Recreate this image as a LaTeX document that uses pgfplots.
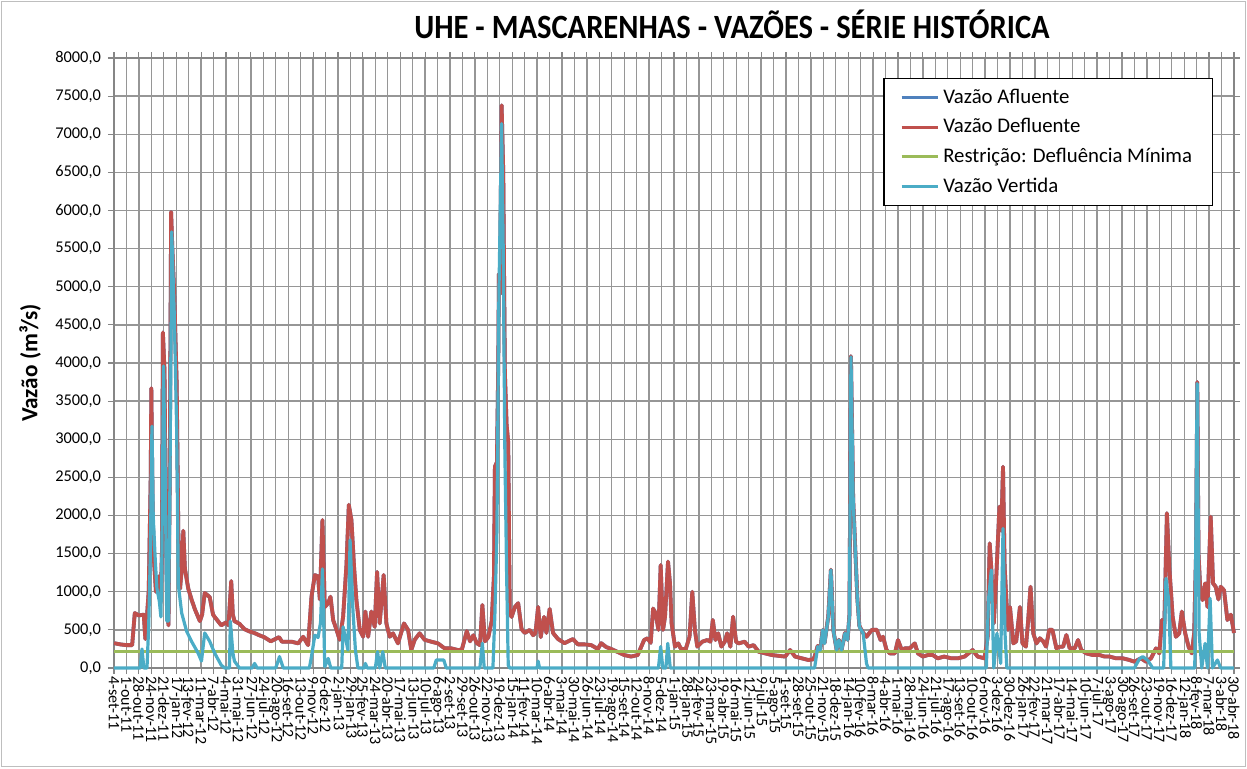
\documentclass[border=0pt]{standalone}
\usepackage{pgfplots}
\pgfplotsset{compat=1.18}
\usepackage{pgfplotstable}
\usepackage{fontspec}
\setmainfont{Carlito}
\definecolor{afl}{RGB}{79,129,189}
\definecolor{defl}{RGB}{192,80,77}
\definecolor{restr}{RGB}{155,187,89}
\definecolor{vert}{RGB}{75,172,198}
\definecolor{gridgray}{RGB}{150,150,150}
\definecolor{axisgray}{RGB}{134,134,134}

\pgfplotstableread{
x y
0 326
0.5 310
1.0 300
1.46 300
1.67 720
1.99 690
2.39 700
2.52 380
2.79 1010
2.95 2500
3.0 3670
3.1 2200
3.18 1500
3.37 1000
3.58 1200
3.74 850
3.85 1500
3.93 4400
4.06 3900
4.16 2000
4.27 800
4.38 560
4.48 2500
4.59 5980
4.69 5500
4.85 4880
5.04 3720
5.17 1770
5.31 1040
5.44 1300
5.57 1800
5.7 1300
5.97 1040
6.23 900
6.5 770
6.9 615
7.08 700
7.29 985
7.69 930
7.96 700
8.09 670
8.62 560
9.02 600
9.2 560
9.42 1140
9.55 700
9.68 615
10.08 580
10.48 510
10.88 480
11.27 460
11.67 430
12.07 405
12.6 350
13.26 405
13.5 345
14.27 345
14.8 323
15.2 410
15.6 300
15.87 935
16.14 1220
16.4 1200
16.54 900
16.75 1940
16.94 800
17.21 850
17.4 935
17.61 630
17.88 500
18.14 370
18.41 670
18.68 1350
18.87 2140
19.08 1940
19.29 1330
19.48 890
19.75 500
20.02 410
20.2 740
20.42 410
20.68 740
20.95 540
21.14 1260
21.35 585
21.67 1220
21.89 585
22.15 410
22.42 455
22.82 323
23.3 585
23.63 500
23.89 236
24.16 370
24.56 455
24.96 370
25.5 345
26.03 323
26.57 258
27.1 258
27.64 236
27.95 240
28.35 484
28.61 350
28.88 430
29.15 326
29.41 300
29.6 826
29.81 350
30.08 405
30.35 615
30.53 1200
30.61 2640
30.77 2700
30.88 4000
30.93 5170
31.01 4900
31.15 7380
31.28 6510
31.41 3880
31.55 3190
31.68 2960
31.76 1500
31.81 720
31.95 670
32.21 800
32.48 850
32.75 510
33.01 460
33.41 500
33.68 430
33.87 460
34.08 800
34.29 405
34.56 670
34.75 460
35.01 775
35.28 460
35.68 380
36.21 326
36.88 380
37.28 310
37.81 310
38.35 300
38.88 250
39.15 326
39.55 275
39.95 250
40.48 210
41.01 170
41.55 150
42.08 170
42.6 367
42.87 390
43.13 330
43.32 780
43.53 715
43.75 500
43.93 1350
44.12 500
44.28 675
44.52 1395
44.68 1110
44.81 585
45.08 280
45.35 323
45.53 258
45.93 240
46.25 410
46.47 1000
46.68 500
46.87 280
47.27 345
47.67 367
47.93 345
48.12 630
48.33 367
48.55 455
48.81 280
49.08 345
49.27 455
49.53 280
49.75 673
49.99 345
50.2 323
50.68 345
51.0 280
51.4 300
51.8 214
52.33 192
52.87 170
53.4 160
53.93 150
54.33 236
54.73 150
55.27 127
55.8 105
56.2 115
56.3 150
56.55 290
56.75 240
56.95 500
57.1 330
57.4 680
57.61 1290
57.8 500
58.07 240
58.25 370
58.47 240
58.74 460
58.95 370
59.1 700
59.22 4090
59.4 2210
59.58 1510
59.74 900
59.9 550
60.2 460
60.47 410
60.9 500
61.3 500
61.6 367
61.8 410
62.08 236
62.35 192
62.75 192
63.0 367
63.3 236
63.55 258
63.95 258
64.35 323
64.6 192
65.0 150
65.4 170
65.8 170
66.2 127
66.7 150
67.3 127
67.8 127
68.35 150
69.0 236
69.4 150
69.95 127
70.2 400
70.37 1635
70.5 1300
70.7 585
70.9 1200
71.15 2115
71.3 1800
71.44 2640
71.57 1330
71.84 500
72.0 800
72.27 323
72.5 350
72.8 800
73.0 323
73.28 280
73.45 600
73.65 1066
73.87 455
74.13 323
74.4 390
74.67 350
74.9 280
75.15 500
75.41 500
75.73 258
76.0 280
76.27 280
76.53 433
76.8 258
77.2 258
77.47 367
77.73 236
78.13 192
78.67 170
79.2 170
79.6 150
80.0 150
80.53 127
81.07 127
81.6 105
82.0 83
82.53 127
82.93 83
83.33 127
83.73 258
84.0 192
84.21 630
84.4 550
84.61 2030
84.8 1330
85.07 673
85.33 410
85.6 455
85.81 740
86.08 455
86.35 280
86.61 192
86.8 455
86.95 1500
87.05 3750
87.15 1500
87.3 1000
87.47 890
87.68 1110
87.87 800
88.13 1985
88.32 1110
88.53 1066
88.75 900
88.93 1066
89.2 1020
89.47 630
89.75 700
90.0 460
}\defltable

\pgfplotstableread{
x y
0 0
2.1 0
2.25 250
2.4 0
2.65 0
2.79 560
2.92 1500
3.05 3170
3.15 2000
3.32 1400
3.45 1040
3.64 880
3.77 670
3.85 1500
3.98 3960
4.1 2800
4.24 615
4.38 615
4.5 2500
4.64 5720
4.85 4600
5.04 3090
5.17 1090
5.44 720
5.84 480
6.23 350
6.76 195
7.03 90
7.29 460
7.69 350
8.09 195
8.62 37
8.9 0
9.28 0
9.35 615
9.55 200
9.68 90
10.08 0
11.1 0
11.3 60
11.5 0
13.0 0
13.3 150
13.6 0
15.7 0
15.87 150
16.14 430
16.4 400
16.6 600
16.75 1300
16.94 17
17.21 126
17.42 0
18.3 0
18.41 540
18.8 236
18.97 1680
19.2 760
19.4 236
19.6 0
20.1 0
20.2 60
20.35 0
21.0 0
21.18 214
21.35 0
21.6 214
21.8 0
25.7 0
25.9 105
26.5 105
26.7 0
29.4 0
29.6 326
29.75 0
30.45 0
30.61 720
30.77 1770
30.93 4880
31.15 7140
31.28 5450
31.41 2830
31.55 1250
31.68 37
31.8 0
34.0 0
34.08 90
34.2 0
43.75 0
43.93 280
44.1 0
44.35 0
44.5 323
44.7 0
56.3 0
56.55 280
56.75 236
56.95 500
57.1 320
57.4 673
57.61 1285
57.8 500
58.07 236
58.25 367
58.47 236
58.74 455
58.95 367
59.1 700
59.22 4080
59.4 2200
59.58 1500
59.74 890
59.9 540
60.2 455
60.47 60
60.6 0
70.1 0
70.27 890
70.5 1285
70.7 0
70.95 455
71.25 60
71.44 1830
71.6 455
71.75 0
82.0 0
82.4 120
82.67 150
83.07 100
83.47 0
84.35 0
84.53 1175
84.75 890
84.93 0
86.85 0
87.04 3730
87.2 455
87.41 0
87.68 323
87.87 0
88.08 913
88.27 0
88.67 105
88.93 0
90 0
}\verttable

\begin{document}
\begin{tikzpicture}
\path[use as bounding box] (-57pt,-50pt) rectangle (566.5pt,334pt);
\draw[draw={rgb,255:red,190;green,190;blue,190}, line width=0.6pt] (-56.3pt,-49.3pt) rectangle (565.8pt,333.3pt);
\begin{axis}[
  at={(0,0)}, anchor=south west,
  scale only axis, width=560pt, height=305pt,
  xmin=0, xmax=90, ymin=0, ymax=8000,
  clip=false,
  xtick={0,...,90},
  xticklabels={4-set-11,1-out-11,28-out-11,24-nov-11,21-dez-11,17-jan-12,13-fev-12,11-mar-12,7-abr-12,4-mai-12,31-mai-12,27-jun-12,24-jul-12,20-ago-12,16-set-12,13-out-12,9-nov-12,6-dez-12,2-jan-13,29-jan-13,25-fev-13,24-mar-13,20-abr-13,17-mai-13,13-jun-13,10-jul-13,6-ago-13,2-set-13,29-set-13,26-out-13,22-nov-13,19-dez-13,15-jan-14,11-fev-14,10-mar-14,6-abr-14,3-mai-14,30-mai-14,26-jun-14,23-jul-14,19-ago-14,15-set-14,12-out-14,8-nov-14,5-dez-14,1-jan-15,28-jan-15,24-fev-15,23-mar-15,19-abr-15,16-mai-15,12-jun-15,9-jul-15,5-ago-15,1-set-15,28-set-15,25-out-15,21-nov-15,18-dez-15,14-jan-16,10-fev-16,8-mar-16,4-abr-16,1-mai-16,28-mai-16,24-jun-16,21-jul-16,17-ago-16,13-set-16,10-out-16,6-nov-16,3-dez-16,30-dez-16,26-jan-17,22-fev-17,21-mar-17,17-abr-17,14-mai-17,10-jun-17,7-jul-17,3-ago-17,30-ago-17,26-set-17,23-out-17,19-nov-17,16-dez-17,12-jan-18,8-fev-18,7-mar-18,3-abr-18,30-abr-18},
  ytick={0,500,...,8000},
  grid=major,
  major grid style={draw=gridgray, line width=0.7pt},
  axis line style={draw=axisgray, line width=0.7pt},
  tick align=outside, major tick length=3pt,
  tick style={draw=axisgray, line width=0.6pt},
  xticklabel style={rotate=-90, anchor=west, font=\fontsize{8}{9}\selectfont, inner sep=1pt},
  yticklabel style={font=\fontsize{8.2}{9}\selectfont},
  scaled y ticks=false,
  /pgf/number format/assume math mode=true,
  yticklabel={\pgfmathprintnumber[fixed,fixed zerofill,precision=1,use comma,1000 sep={}]{\tick}},
  legend style={at={(0.981,0.967)}, anchor=north east, draw=black, line width=0.6pt, fill=white,
    font=\fontsize{10.4}{12}\selectfont, inner xsep=8pt, inner ysep=3pt, row sep=2.2pt,
    cells={anchor=west}},
  legend image code/.code={\draw[#1, line width=1.6pt] (0pt,0pt) -- (18pt,0pt);},
]
\addplot[afl, line width=1.9pt, line join=round] table {\defltable};
\addlegendentry{Vazão Afluente}
\addplot[defl, line width=1.9pt, line join=round] table {\defltable};
\addlegendentry{Vazão Defluente}
\addplot[restr, line width=1.7pt] coordinates {(0,215) (90,215)};
\addlegendentry{Restrição: Defluência Mínima}
\addplot[vert, line width=1.6pt, line join=round] table {\verttable};
\addlegendentry{Vazão Vertida}
\end{axis}
\node at (309pt,322pt) {\scalebox{0.9}[1]{\fontsize{17}{20}\selectfont\bfseries UHE - MASCARENHAS - VAZÕES - SÉRIE HISTÓRICA}};
\node[rotate=90] at (-42pt,152.5pt) {\fontsize{11.6}{14}\selectfont\bfseries Vazão (m³/s)};
\end{tikzpicture}
\end{document}
